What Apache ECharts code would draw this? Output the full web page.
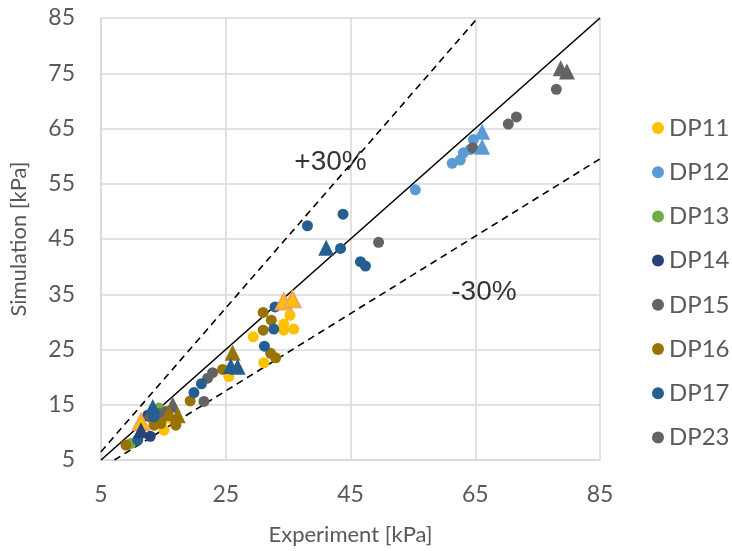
<!DOCTYPE html>
<html>
<head>
<meta charset="utf-8">
<script src="https://cdn.jsdelivr.net/npm/echarts@6/dist/echarts.min.js"></script>
<style>
  html, body { margin: 0; padding: 0; background: #fff; }
  #chart { width: 732px; height: 551px; }
</style>
</head>
<body>
<div id="chart"></div>
<script>
// [Experiment, Simulation] in kPa
var dp11 = [[35.3,31.2],[34.3,29.6],[34.3,28.5],[35.9,28.7],[29.4,27.3],[31.1,22.6],[25.5,20.1],[15.1,10.4],[15.9,12.6]];
var dp11Tri = [[34.3,33.7],[35.7,34.1],[11.4,11.9]];
var dp12 = [[55.4,53.9],[61.3,58.7],[62.6,59.3],[63.1,60.6],[64.2,61.2],[64.7,63.0]];
var dp12Tri = [[66.1,64.4],[66.1,61.7]];
var dp13 = [[9.8,8.0],[14.3,14.4]];
var dp14 = [[12.9,9.3],[12.5,13.1]];
var dp14Tri = [[11.4,10.4]];
var dp15 = [[14.3,13.4],[15.5,13.8],[21.5,15.6],[22.1,19.8],[22.9,20.8],[12.8,12.8]];
var dp15Tri = [[16.5,15.0]];
var dp16 = [[31.0,31.7],[32.3,30.3],[31.0,28.5],[32.2,24.3],[33.0,23.5],[24.5,21.4],[19.3,15.7],[9.0,7.7],[13.5,11.3],[14.6,11.6],[17.0,11.3]];
var dp16Tri = [[26.1,24.4],[15.9,13.5],[17.3,13.1]];
var dp17 = [[38.1,47.4],[43.8,49.5],[43.4,43.3],[46.6,40.9],[47.4,40.1],[32.9,32.7],[32.7,28.7],[31.2,25.6],[21.1,18.8],[19.9,17.2],[10.9,8.6],[13.5,12.8]];
var dp17Tri = [[41.1,43.4],[25.8,22.0],[26.9,21.9],[13.3,14.6]];
var dp23 = [[64.6,61.5],[70.3,65.8],[71.6,67.1],[78.0,72.1],[49.5,44.4]];
var dp23Tri = [[78.7,75.9],[79.7,75.3]];

// reference lines
var lineEqual = [[5,5],[85,85]];
var linePlus30 = [[5,6.5],[65.38,85]];
var lineMinus30 = [[7.14,5],[85,59.5]];
var notes = [{ value: [41.8,58.8], text: '+30%' }, { value: [66.4,35.4], text: '-30%' }];

var legendNames = ['DP11','DP12','DP13','DP14','DP15','DP16','DP17','DP23'];
var colors = {
    DP11: '#FFC000', DP12: '#5B9BD5', DP13: '#70AD47', DP14: '#264478',
    DP15: '#636363', DP16: '#997300', DP17: '#255E91', DP23: '#636363'
};

var myChart = echarts.init(document.getElementById('chart'));

function dots(name, data) {
    return {
        name: name, type: 'scatter', data: data,
        symbol: 'circle', symbolSize: 11,
        itemStyle: { color: colors[name], opacity: 1 },
        z: 3
    };
}
function tris(name, data, border) {
    return {
        name: name + ' tri', type: 'scatter', data: data,
        symbol: 'triangle', symbolSize: 16,
        itemStyle: { color: colors[name], opacity: 1, borderColor: border || colors[name], borderWidth: border ? 2 : 0 },
        z: 4
    };
}
function refLine(data, dashed) {
    return {
        type: 'line', data: data, symbol: 'none', silent: true,
        lineStyle: { color: '#000', width: 1.6, type: dashed ? [7, 5] : 'solid' },
        z: 2
    };
}

var axisText = { color: '#595959', fontSize: 22, fontFamily: 'Lato' };

var option = {
    animation: false,
    grid: { left: 100, right: 132, top: 18, bottom: 91 },
    legend: {
        data: legendNames,
        orient: 'vertical',
        left: 647, top: 111,
        itemWidth: 12, itemHeight: 12, itemGap: 20.2,
        icon: 'circle',
        textStyle: { color: '#595959', fontSize: 24, fontFamily: 'Lato' }
    },
    xAxis: {
        type: 'value', min: 5, max: 85, interval: 20,
        name: 'Experiment [kPa]', nameLocation: 'middle', nameGap: 64,
        nameTextStyle: axisText,
        axisLabel: { margin: 23, color: '#595959', fontSize: 23, fontFamily: 'Lato' },
        axisLine: { show: true, lineStyle: { color: '#d9d9d9', width: 1.5 } },
        axisTick: { show: false },
        splitLine: { lineStyle: { color: '#d9d9d9', width: 1.5 } }
    },
    yAxis: {
        type: 'value', min: 5, max: 85, interval: 10,
        name: 'Simulation [kPa]', nameLocation: 'middle', nameGap: 71,
        nameTextStyle: axisText,
        axisLabel: { margin: 26, color: '#595959', fontSize: 23, fontFamily: 'Lato' },
        axisLine: { show: true, lineStyle: { color: '#d9d9d9', width: 1.5 } },
        axisTick: { show: false },
        splitLine: { lineStyle: { color: '#d9d9d9', width: 1.5 } }
    },
    series: [
        refLine(lineEqual, false),
        refLine(linePlus30, true),
        refLine(lineMinus30, true),
        {
            type: 'scatter', symbolSize: 0, silent: true,
            data: notes.map(function (n) { return { value: n.value, label: { formatter: n.text } }; }),
            label: { show: true, position: 'inside', color: '#000', fontSize: 28, fontFamily: 'Liberation Sans' }
        },
        dots('DP11', dp11),
        dots('DP12', dp12),
        dots('DP13', dp13),
        dots('DP14', dp14),
        dots('DP15', dp15),
        dots('DP16', dp16),
        dots('DP17', dp17),
        dots('DP23', dp23),
        tris('DP11', dp11Tri, '#F4A259'),
        tris('DP12', dp12Tri),
        tris('DP14', dp14Tri),
        tris('DP15', dp15Tri),
        tris('DP16', dp16Tri),
        tris('DP17', dp17Tri),
        tris('DP23', dp23Tri)
    ]
};

myChart.setOption(option);
</script>
</body>
</html>
